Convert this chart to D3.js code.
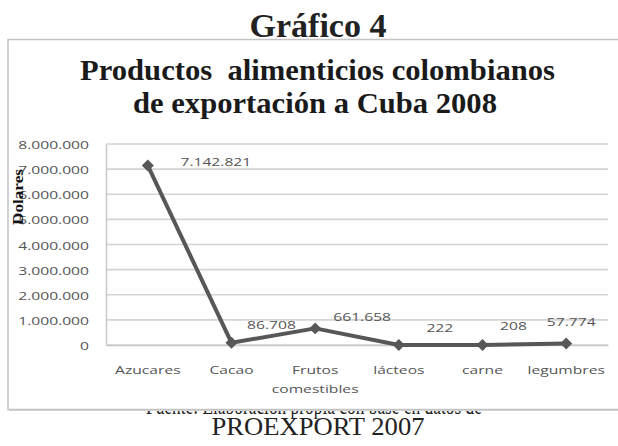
<!DOCTYPE html>
<html><head><meta charset="utf-8">
<script src="https://cdn.jsdelivr.net/npm/d3@7"></script>
<style>html,body{margin:0;padding:0;background:#fff;}svg{display:block;}</style>
</head><body>
<svg id="c" width="618" height="446"></svg>
<script>
const categories = ["Azucares", "Cacao", "Frutos comestibles", "lácteos", "carne", "legumbres"];
const values = [7142821, 86708, 661658, 222, 208, 57774];
const yTicks = [0, 1000000, 2000000, 3000000, 4000000, 5000000, 6000000, 7000000, 8000000];
const figureLabel = "Gráfico 4";
const titleLines = ["Productos  alimenticios colombianos", "de exportación a Cuba 2008"];
const yTitle = "Dolares";
const sourceLines = ["Fuente: Elaboración propia con base en datos de", "PROEXPORT 2007"];
// manual label nudges (layout, px)
const labelDx = [68, 40, 47, 41, 31, 5];
const labelDy = [-4, -18, -12, -18, -20, -22];

const loc = d3.formatLocale({decimal: ",", thousands: ".", grouping: [3], currency: ["$", ""]});
const fmt = loc.format(",d");

const svg = d3.select("#c");
const serif = "'Liberation Serif', 'Times New Roman', serif";
const sans = "'Open Sans', sans-serif";
const txtCol = "#555555";
const SX = 1.36;

// figure label
svg.append("text").attr("x", 318).attr("y", 37).attr("text-anchor", "middle")
  .attr("font-family", serif).attr("font-weight", "bold").attr("font-size", 33)
  .attr("fill", "#222").attr("textLength", 137).attr("lengthAdjust", "spacingAndGlyphs")
  .text(figureLabel);

// source lines (first one partly hidden behind chart box)
svg.append("text").attr("x", 314).attr("y", 414).attr("text-anchor", "middle")
  .attr("font-family", serif).attr("font-size", 25).attr("fill", "#222")
  .attr("textLength", 336).attr("lengthAdjust", "spacingAndGlyphs")
  .text(sourceLines[0]);
svg.append("text").attr("x", 318).attr("y", 435).attr("text-anchor", "middle")
  .attr("font-family", serif).attr("font-size", 26).attr("fill", "#222")
  .attr("textLength", 213).attr("lengthAdjust", "spacingAndGlyphs")
  .text(sourceLines[1]);

// chart box
svg.append("rect").attr("x", 9).attr("y", 41).attr("width", 640).attr("height", 370)
  .attr("fill", "#d6d6d6");
svg.append("rect").attr("x", 8).attr("y", 39.5).attr("width", 640).attr("height", 370)
  .attr("fill", "#fff").attr("stroke", "#c4c4c4").attr("stroke-width", 1.5);

// title
const tW = [475, 364], tC = [317.5, 315], tY = [80, 113];
titleLines.forEach((t, i) => {
  svg.append("text").attr("x", tC[i]).attr("y", tY[i]).attr("text-anchor", "middle")
    .style("white-space", "pre")
    .attr("font-family", serif).attr("font-weight", "bold").attr("font-size", 29)
    .attr("fill", "#1a1a1a").attr("textLength", tW[i]).attr("lengthAdjust", "spacingAndGlyphs")
    .text(t);
});

// scales
const x = d3.scaleBand().domain(categories).range([106, 608]).padding(0);
const y = d3.scaleLinear().domain([0, 8000000]).range([345, 144]);
const cx = c => x(c) + x.bandwidth() / 2;

// gridlines
svg.append("g").selectAll("line").data(yTicks).join("line")
  .attr("x1", 106).attr("x2", 608).attr("y1", d => y(d)).attr("y2", d => y(d))
  .attr("stroke", "#d4d4d4").attr("stroke-width", 1.6);

// y axis
const yAxis = svg.append("g").attr("transform", "translate(106,0)")
  .call(d3.axisLeft(y).tickValues(yTicks).tickSize(0).tickPadding(0).tickFormat(fmt));
yAxis.select(".domain").attr("stroke", "#c8c8c8").attr("stroke-width", 1.5);
yAxis.selectAll(".tick text").attr("x", null).attr("dy", null)
  .attr("font-family", sans).attr("font-size", 11.5).attr("fill", txtCol)
  .attr("text-anchor", "end").attr("dominant-baseline", "central")
  .attr("transform", `translate(-17,0) scale(${SX},1)`);

// x axis
const xAxis = svg.append("g").attr("transform", "translate(0,345)")
  .call(d3.axisBottom(x).tickSize(0).tickFormat(() => ""));
xAxis.select(".domain").attr("stroke", "#c8c8c8").attr("stroke-width", 1.5);
xAxis.selectAll(".tick").each(function(c) {
  const g = d3.select(this);
  g.select("text").remove();
  const words = c.split(" ");
  words.forEach((w, i) => {
    g.append("text").attr("transform", `translate(0,${29 + i * 19}) scale(${SX},1)`)
      .attr("text-anchor", "middle").attr("font-family", sans).attr("font-size", 11.5)
      .attr("fill", txtCol).text(w);
  });
});

// y title
svg.append("text").attr("transform", "translate(23,197) rotate(-90)")
  .attr("text-anchor", "middle").attr("font-family", serif).attr("font-weight", "bold")
  .attr("font-size", 15).attr("fill", "#111")
  .attr("textLength", 56).attr("lengthAdjust", "spacingAndGlyphs").text(yTitle);

// line
const line = d3.line().x((d, i) => cx(categories[i])).y(d => y(d));
svg.append("path").datum(values).attr("d", line).attr("fill", "none")
  .attr("stroke", "#575757").attr("stroke-width", 4).attr("stroke-linejoin", "round");

// markers (diamonds)
svg.append("g").selectAll("path").data(values).join("path")
  .attr("d", d3.symbol(d3.symbolSquare, 72))
  .attr("transform", (d, i) => `translate(${cx(categories[i])},${y(d)}) rotate(45)`)
  .attr("fill", "#575757");

// value labels
svg.append("g").selectAll("text").data(values).join("text")
  .attr("transform", (d, i) => `translate(${cx(categories[i]) + labelDx[i]},${y(d) + labelDy[i]}) scale(${SX},1)`)
  .attr("text-anchor", "middle").attr("dominant-baseline", "central")
  .attr("font-family", sans).attr("font-size", 11.5).attr("fill", txtCol)
  .text(d => fmt(d));
</script>
</body></html>
